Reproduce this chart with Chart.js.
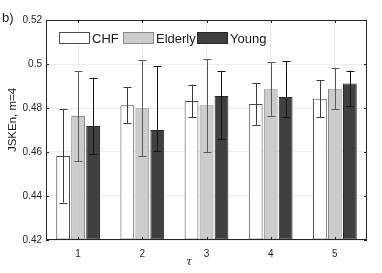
<!DOCTYPE html>
<html>
<head>
<meta charset="utf-8">
<script src="https://cdn.jsdelivr.net/npm/chart.js@4/dist/chart.umd.min.js"></script>
<style>
  html, body { margin: 0; padding: 0; background: #fff; }
  #wrap { width: 382px; height: 273px; position: relative; }
</style>
</head>
<body>
<div id="wrap"><canvas id="c"></canvas></div>
<script>
// categories (tau)
const taus = ['1', '2', '3', '4', '5'];
const groups = ['CHF', 'Elderly', 'Young'];

// bar heights
const chfMean = [0.4582, 0.4812, 0.4832, 0.4818, 0.4842];
const elderlyMean = [0.4764, 0.4799, 0.4812, 0.4885, 0.4888];
const youngMean = [0.4718, 0.4700, 0.4855, 0.4850, 0.4911];

// error bar ends
const chfLow = [0.4370, 0.4730, 0.4758, 0.4724, 0.4759];
const chfHigh = [0.4794, 0.4894, 0.4906, 0.4912, 0.4926];
const elderlyLow = [0.4559, 0.4582, 0.4600, 0.4765, 0.4794];
const elderlyHigh = [0.4968, 0.5017, 0.5023, 0.5008, 0.4983];
const youngLow = [0.4590, 0.4605, 0.4658, 0.4758, 0.4808];
const youngHigh = [0.4938, 0.4991, 0.4968, 0.5014, 0.4970];

// y ticks
const yTicks = [0.42, 0.44, 0.46, 0.48, 0.50, 0.52];
const yTickLabels = ['0.42', '0.44', '0.46', '0.48', '0.5', '0.52'];

const lows = [chfLow, elderlyLow, youngLow];
const highs = [chfHigh, elderlyHigh, youngHigh];
const errColors = ['#3a3a3a', '#5a5a5a', '#141414'];
const fills = ['#ffffff', '#cccccc', '#404040'];
const borders = ['#4d4d4d', '#8a8a8a', '#262626'];

const FONT = 'Helvetica, Arial, "Liberation Sans", sans-serif';

// error bars, top/right box, inward ticks, legend and outer labels
const extras = {
  id: 'extras',
  afterDatasetsDraw(chart) {
    const ctx = chart.ctx;
    const ys = chart.scales.y;
    const xs = chart.scales.x;
    const a = chart.chartArea;
    ctx.save();
    // error bars
    for (let d = 0; d < 3; d++) {
      const meta = chart.getDatasetMeta(d);
      ctx.strokeStyle = errColors[d];
      ctx.lineWidth = 1;
      meta.data.forEach((bar, i) => {
        const x = Math.round(bar.x) + 0.5;
        const yl = ys.getPixelForValue(lows[d][i]);
        const yh = ys.getPixelForValue(highs[d][i]);
        ctx.beginPath();
        ctx.moveTo(x, yl); ctx.lineTo(x, yh);
        ctx.moveTo(x - 4, Math.round(yl) + 0.5); ctx.lineTo(x + 4, Math.round(yl) + 0.5);
        ctx.moveTo(x - 4, Math.round(yh) + 0.5); ctx.lineTo(x + 4, Math.round(yh) + 0.5);
        ctx.stroke();
      });
    }
    // box + inward ticks
    ctx.strokeStyle = '#262626';
    ctx.lineWidth = 1;
    ctx.strokeRect(Math.round(a.left) + 0.5, Math.round(a.top) + 0.5,
      Math.round(a.right - a.left) - 1, Math.round(a.bottom - a.top) - 1);
    ctx.beginPath();
    yTicks.forEach(v => {
      const y = Math.round(ys.getPixelForValue(v)) + 0.5;
      ctx.moveTo(a.left, y); ctx.lineTo(a.left + 3, y);
      ctx.moveTo(a.right, y); ctx.lineTo(a.right - 3, y);
    });
    taus.forEach((t, i) => {
      const x = Math.round(xs.getPixelForValue(i)) + 0.5;
      ctx.moveTo(x, a.bottom); ctx.lineTo(x, a.bottom - 3);
      ctx.moveTo(x, a.top); ctx.lineTo(x, a.top + 3);
    });
    ctx.stroke();

    // legend
    const lx = [59, 123, 197];
    ctx.font = '13px ' + FONT;
    ctx.textBaseline = 'middle';
    ctx.textAlign = 'left';
    for (let d = 0; d < 3; d++) {
      ctx.fillStyle = fills[d];
      ctx.fillRect(lx[d], 32, 31, 12);
      ctx.strokeStyle = borders[d];
      ctx.strokeRect(lx[d] + 0.5, 32.5, 30, 11);
      ctx.fillStyle = '#1a1a1a';
      ctx.fillText(groups[d], lx[d] + 33, 39);
    }

    // outer labels
    ctx.fillStyle = '#1a1a1a';
    ctx.font = '13px ' + FONT;
    ctx.textBaseline = 'alphabetic';
    ctx.fillText('b)', 2, 22);
    ctx.font = 'italic 11px "DejaVu Serif", serif';
    ctx.textAlign = 'center';
    ctx.fillText('\u03C4', 189, 265);
    ctx.save();
    ctx.translate(13, 120);
    ctx.rotate(-Math.PI / 2);
    ctx.font = '11.5px ' + FONT;
    ctx.textBaseline = 'middle';
    ctx.fillText('JSKEn, m=4', 0, 0);
    ctx.restore();
    ctx.restore();
  }
};

const means = [chfMean, elderlyMean, youngMean];

new Chart(document.getElementById('c'), {
  type: 'bar',
  data: {
    labels: taus,
    datasets: groups.map((g, d) => ({
      label: g,
      data: means[d],
      backgroundColor: fills[d],
      borderColor: borders[d],
      borderWidth: 1,
      borderSkipped: false,
      base: 0.42,
      categoryPercentage: 0.7,
      barPercentage: 0.92
    }))
  },
  options: {
    responsive: true,
    maintainAspectRatio: false,
    animation: false,
    layout: { padding: { left: 0, right: 15, top: 20, bottom: 0 } },
    plugins: {
      legend: { display: false },
      tooltip: { enabled: false }
    },
    scales: {
      x: {
        grid: { offset: false, color: '#ececec', drawTicks: false },
        border: { display: false },
        ticks: { color: '#262626', font: { family: FONT, size: 10 }, padding: 8 },
        afterFit(s) { s.height = 33; }
      },
      y: {
        min: 0.42,
        max: 0.52,
        afterBuildTicks(s) { s.ticks = yTicks.map(v => ({ value: v })); },
        grid: { color: '#ececec', drawTicks: false },
        border: { display: false },
        ticks: {
          color: '#262626',
          font: { family: FONT, size: 10 },
          padding: 4,
          callback: (v, i) => yTickLabels[i]
        },
        afterFit(s) { s.width = 46; }
      }
    }
  },
  plugins: [extras]
});
</script>
</body>
</html>
